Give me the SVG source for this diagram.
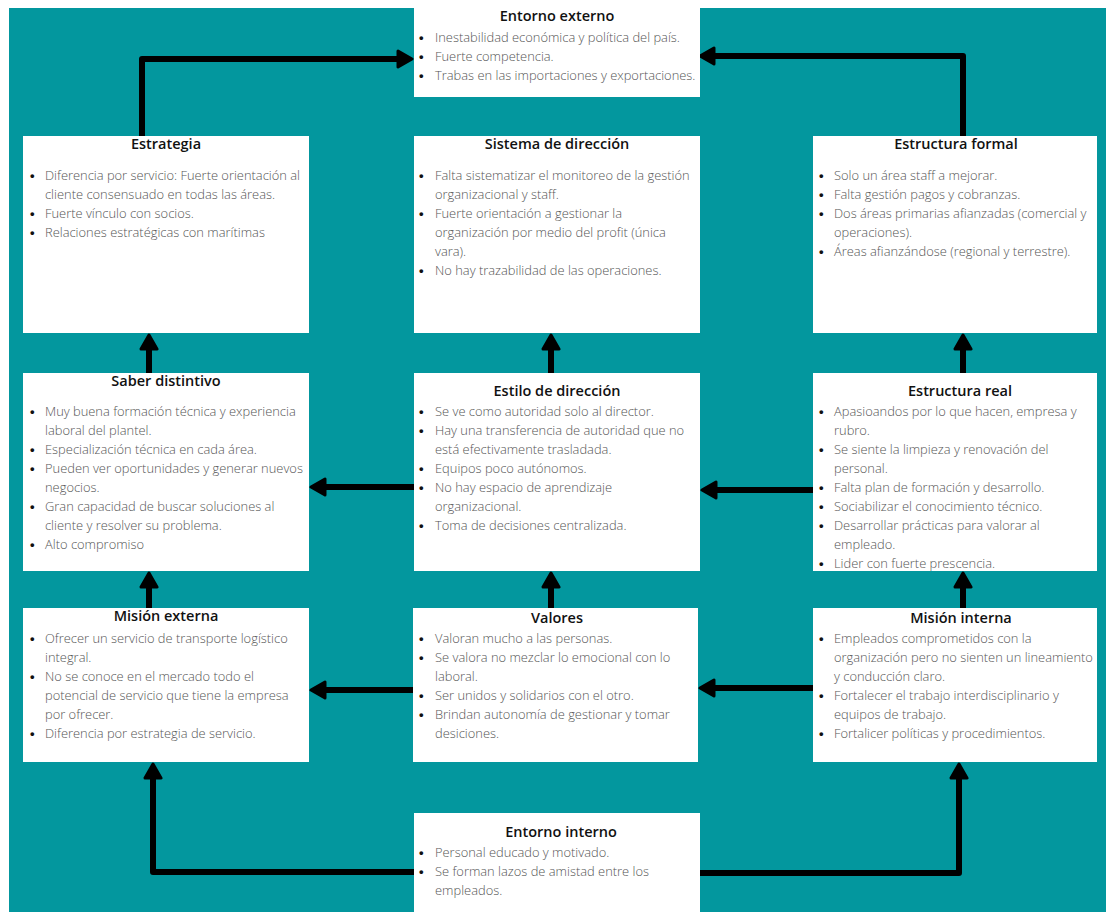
<svg xmlns="http://www.w3.org/2000/svg" width="1111" height="912" viewBox="0 0 1111 912">
  <style>
    .box { fill: #ffffff; }
    .title { font-family: "Open Sans", "Liberation Sans", sans-serif; font-size: 14.5px; font-weight: 600; fill: #111111; text-anchor: middle; }
    .body { font-family: "Open Sans", "Liberation Sans", sans-serif; font-size: 12.9px; font-weight: 300; fill: #555555; }
    .bul { font-family: "Liberation Sans", sans-serif; font-size: 13px; font-weight: 700; fill: #111111; }
    .conn { fill: none; stroke: #000000; stroke-width: 6; stroke-linejoin: round; marker-end: url(#ah); }
  </style>
  <defs>
    <marker id="ah" markerUnits="userSpaceOnUse" viewBox="0 0 18 20" markerWidth="18" markerHeight="20" refX="4" refY="10" orient="auto">
      <path d="M2,2 L16,10 L2,18 Z" fill="#000000" stroke="#000000" stroke-width="3" stroke-linejoin="round"/>
    </marker>
  </defs>

  <!-- page and teal panel -->
  <rect x="0" y="0" width="1111" height="912" fill="#ffffff"/>
  <rect x="9" y="8" width="1097" height="904" fill="#03979e"/>

  <!-- connectors -->
  <g id="connectors">
    <path class="conn" d="M142,136 V59 H400"/>
    <path class="conn" d="M963,136 V56 H712"/>
    <path class="conn" d="M149,373 V347"/>
    <path class="conn" d="M551,373 V347"/>
    <path class="conn" d="M963,373 V347"/>
    <path class="conn" d="M149,608 V585"/>
    <path class="conn" d="M551,608 V585"/>
    <path class="conn" d="M963,608 V585"/>
    <path class="conn" d="M414,487 H323"/>
    <path class="conn" d="M813,490 H714"/>
    <path class="conn" d="M413,690 H323"/>
    <path class="conn" d="M813,688 H712"/>
    <path class="conn" d="M414,872 H153 V776"/>
    <path class="conn" d="M700,873 H959 V776"/>
  </g>

  <!-- Entorno externo -->
  <g id="entorno-externo">
    <rect class="box" x="414" y="0" width="286" height="97"/>
    <text class="title" x="557" y="21">Entorno externo</text>
    <text class="bul"><tspan x="419" y="42">•</tspan><tspan x="419" y="61">•</tspan><tspan x="419" y="80">•</tspan></text>
    <text class="body">
      <tspan x="435" y="42">Inestabilidad económica y política del país.</tspan>
      <tspan x="435" y="61">Fuerte competencia.</tspan>
      <tspan x="435" y="80">Trabas en las importaciones y exportaciones.</tspan>
    </text>
  </g>

  <!-- Estrategia -->
  <g id="estrategia">
    <rect class="box" x="23" y="136" width="286" height="197"/>
    <text class="title" x="166" y="149">Estrategia</text>
    <text class="bul"><tspan x="30" y="180">•</tspan><tspan x="30" y="218">•</tspan><tspan x="30" y="237">•</tspan></text>
    <text class="body">
      <tspan x="45" y="180">Diferencia por servicio: Fuerte orientación al</tspan>
      <tspan x="45" y="199">cliente consensuado en todas las áreas.</tspan>
      <tspan x="45" y="218">Fuerte vínculo con socios.</tspan>
      <tspan x="45" y="237">Relaciones estratégicas con marítimas</tspan>
    </text>
  </g>

  <!-- Sistema de dirección -->
  <g id="sistema-direccion">
    <rect class="box" x="414" y="136" width="286" height="197"/>
    <text class="title" x="557" y="149">Sistema de dirección</text>
    <text class="bul"><tspan x="419" y="180">•</tspan><tspan x="419" y="218">•</tspan><tspan x="419" y="275">•</tspan></text>
    <text class="body">
      <tspan x="435" y="180">Falta sistematizar el monitoreo de la gestión</tspan>
      <tspan x="435" y="199">organizacional y staff.</tspan>
      <tspan x="435" y="218">Fuerte orientación a gestionar la</tspan>
      <tspan x="435" y="237">organización por medio del profit (única</tspan>
      <tspan x="435" y="256">vara).</tspan>
      <tspan x="435" y="275">No hay trazabilidad de las operaciones.</tspan>
    </text>
  </g>

  <!-- Estructura formal -->
  <g id="estructura-formal">
    <rect class="box" x="813" y="136" width="284" height="197"/>
    <text class="title" x="956" y="149">Estructura formal</text>
    <text class="bul"><tspan x="819" y="180">•</tspan><tspan x="819" y="199">•</tspan><tspan x="819" y="218">•</tspan><tspan x="819" y="256">•</tspan></text>
    <text class="body">
      <tspan x="834" y="180">Solo un área staff a mejorar.</tspan>
      <tspan x="834" y="199">Falta gestión pagos y cobranzas.</tspan>
      <tspan x="834" y="218">Dos áreas primarias afianzadas (comercial y</tspan>
      <tspan x="834" y="237">operaciones).</tspan>
      <tspan x="834" y="256">Áreas afianzándose (regional y terrestre).</tspan>
    </text>
  </g>

  <!-- Saber distintivo -->
  <g id="saber-distintivo">
    <rect class="box" x="23" y="373" width="286" height="198"/>
    <text class="title" x="166" y="386">Saber distintivo</text>
    <text class="bul"><tspan x="30" y="416">•</tspan><tspan x="30" y="454">•</tspan><tspan x="30" y="473">•</tspan><tspan x="30" y="511">•</tspan><tspan x="30" y="549">•</tspan></text>
    <text class="body">
      <tspan x="45" y="416">Muy buena formación técnica y experiencia</tspan>
      <tspan x="45" y="435">laboral del plantel.</tspan>
      <tspan x="45" y="454">Especialización técnica en cada área.</tspan>
      <tspan x="45" y="473">Pueden ver oportunidades y generar nuevos</tspan>
      <tspan x="45" y="492">negocios.</tspan>
      <tspan x="45" y="511">Gran capacidad de buscar soluciones al</tspan>
      <tspan x="45" y="530">cliente y resolver su problema.</tspan>
      <tspan x="45" y="549">Alto compromiso</tspan>
    </text>
  </g>

  <!-- Estilo de dirección -->
  <g id="estilo-direccion">
    <rect class="box" x="414" y="373" width="286" height="198"/>
    <text class="title" x="557" y="396">Estilo de dirección</text>
    <text class="bul"><tspan x="419" y="416">•</tspan><tspan x="419" y="435">•</tspan><tspan x="419" y="473">•</tspan><tspan x="419" y="492">•</tspan><tspan x="419" y="530">•</tspan></text>
    <text class="body">
      <tspan x="435" y="416">Se ve como autoridad solo al director.</tspan>
      <tspan x="435" y="435">Hay una transferencia de autoridad que no</tspan>
      <tspan x="435" y="454">está efectivamente trasladada.</tspan>
      <tspan x="435" y="473">Equipos poco autónomos.</tspan>
      <tspan x="435" y="492">No hay espacio de aprendizaje</tspan>
      <tspan x="435" y="511">organizacional.</tspan>
      <tspan x="435" y="530">Toma de decisiones centralizada.</tspan>
    </text>
  </g>

  <!-- Estructura real -->
  <g id="estructura-real">
    <rect class="box" x="813" y="373" width="284" height="198"/>
    <text class="title" x="960" y="396">Estructura real</text>
    <text class="bul"><tspan x="819" y="416">•</tspan><tspan x="819" y="454">•</tspan><tspan x="819" y="492">•</tspan><tspan x="819" y="511">•</tspan><tspan x="819" y="530">•</tspan><tspan x="819" y="568">•</tspan></text>
    <text class="body">
      <tspan x="834" y="416">Apasioandos por lo que hacen, empresa y</tspan>
      <tspan x="834" y="435">rubro.</tspan>
      <tspan x="834" y="454">Se siente la limpieza y renovación del</tspan>
      <tspan x="834" y="473">personal.</tspan>
      <tspan x="834" y="492">Falta plan de formación y desarrollo.</tspan>
      <tspan x="834" y="511">Sociabilizar el conocimiento técnico.</tspan>
      <tspan x="834" y="530">Desarrollar prácticas para valorar al</tspan>
      <tspan x="834" y="549">empleado.</tspan>
      <tspan x="834" y="568">Lider con fuerte prescencia.</tspan>
    </text>
  </g>

  <!-- Misión externa -->
  <g id="mision-externa">
    <rect class="box" x="23" y="608" width="286" height="154"/>
    <text class="title" x="166" y="621">Misión externa</text>
    <text class="bul"><tspan x="30" y="643">•</tspan><tspan x="30" y="681">•</tspan><tspan x="30" y="738">•</tspan></text>
    <text class="body">
      <tspan x="45" y="643">Ofrecer un servicio de transporte logístico</tspan>
      <tspan x="45" y="662">integral.</tspan>
      <tspan x="45" y="681">No se conoce en el mercado todo el</tspan>
      <tspan x="45" y="700">potencial de servicio que tiene la empresa</tspan>
      <tspan x="45" y="719">por ofrecer.</tspan>
      <tspan x="45" y="738">Diferencia por estrategia de servicio.</tspan>
    </text>
  </g>

  <!-- Valores -->
  <g id="valores">
    <rect class="box" x="413" y="608" width="285" height="154"/>
    <text class="title" x="557" y="623">Valores</text>
    <text class="bul"><tspan x="419" y="643">•</tspan><tspan x="419" y="662">•</tspan><tspan x="419" y="700">•</tspan><tspan x="419" y="719">•</tspan></text>
    <text class="body">
      <tspan x="435" y="643">Valoran mucho a las personas.</tspan>
      <tspan x="435" y="662">Se valora no mezclar lo emocional con lo</tspan>
      <tspan x="435" y="681">laboral.</tspan>
      <tspan x="435" y="700">Ser unidos y solidarios con el otro.</tspan>
      <tspan x="435" y="719">Brindan autonomía de gestionar y tomar</tspan>
      <tspan x="435" y="738">desiciones.</tspan>
    </text>
  </g>

  <!-- Misión interna -->
  <g id="mision-interna">
    <rect class="box" x="813" y="608" width="284" height="154"/>
    <text class="title" x="961" y="623">Misión interna</text>
    <text class="bul"><tspan x="819" y="643">•</tspan><tspan x="819" y="700">•</tspan><tspan x="819" y="738">•</tspan></text>
    <text class="body">
      <tspan x="834" y="643">Empleados comprometidos con la</tspan>
      <tspan x="834" y="662">organización pero no sienten un lineamiento</tspan>
      <tspan x="834" y="681">y conducción claro.</tspan>
      <tspan x="834" y="700">Fortalecer el trabajo interdisciplinario y</tspan>
      <tspan x="834" y="719">equipos de trabajo.</tspan>
      <tspan x="834" y="738">Fortalicer políticas y procedimientos.</tspan>
    </text>
  </g>

  <!-- Entorno interno -->
  <g id="entorno-interno">
    <rect class="box" x="414" y="813" width="286" height="99"/>
    <text class="title" x="561" y="837">Entorno interno</text>
    <text class="bul"><tspan x="419" y="857">•</tspan><tspan x="419" y="876">•</tspan></text>
    <text class="body">
      <tspan x="435" y="857">Personal educado y motivado.</tspan>
      <tspan x="435" y="876">Se forman lazos de amistad entre los</tspan>
      <tspan x="435" y="895">empleados.</tspan>
    </text>
  </g>
</svg>
